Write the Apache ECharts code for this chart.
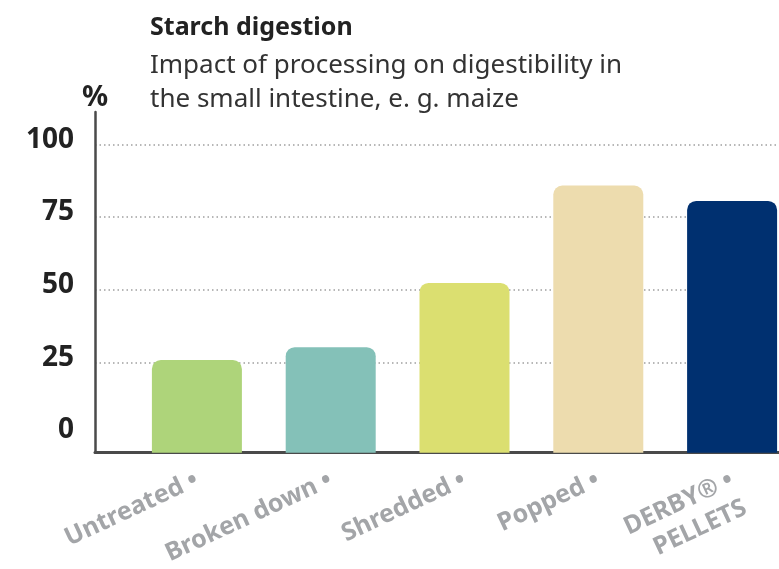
<!DOCTYPE html>
<html>
<head>
<meta charset="utf-8">
<script src="https://cdn.jsdelivr.net/npm/echarts@6/dist/echarts.min.js"></script>
<style>
  html, body { margin: 0; padding: 0; background: #fff; }
  #chart { width: 779px; height: 569px; }
</style>
</head>
<body>
<div id="chart"></div>
<script>
const categories = ['Untreated •', 'Broken down •', 'Shredded •', 'Popped •', 'DERBY® •\nPELLETS'];
const digestibility = [25.8, 30.2, 52.3, 85.8, 80.5];
const barColors = ['#aed47a', '#84c1b8', '#dbdf70', '#eddcae', '#003070'];
const yTicks = [0, 25, 50, 75, 100];

const font = 'Noto Sans';
const axisMin = -6.1;   // bars and axis line sit a little below the 0 gridline
const axisMax = 111.1;

const myChart = echarts.init(document.getElementById('chart'));

const option = {
  animation: false,
  title: [
    {
      left: 145, top: 10,
      text: 'Starch digestion',
      textStyle: { fontFamily: font, fontSize: 25, fontWeight: 'bold', color: '#222' }
    },
    {
      left: 145, top: 44,
      text: 'Impact of processing on digestibility in\nthe small intestine, e. g. maize',
      textStyle: { fontFamily: font, fontSize: 26, fontWeight: 'normal', color: '#333', lineHeight: 34 }
    }
  ],
  grid: [
    // gridlines + tick labels
    { left: 95, right: 0, top: 144.3, bottom: 134, outerBoundsMode: 'none' },
    // axis frame
    { left: 95, right: 0, top: 112, bottom: 116.3, outerBoundsMode: 'none' },
    // bars
    { left: 130, width: 669, top: 112, bottom: 116.3, outerBoundsMode: 'none' }
  ],
  xAxis: [
    { gridIndex: 0, type: 'value', min: 0, max: 1, show: false },
    {
      gridIndex: 1, type: 'value', min: 0, max: 1,
      axisLine: { show: true, onZero: false, lineStyle: { color: '#4a4a4a', width: 3 } },
      axisTick: { show: false }, axisLabel: { show: false }, splitLine: { show: false }
    },
    {
      gridIndex: 2, type: 'category', data: categories,
      axisLine: { show: false }, axisTick: { show: false },
      axisLabel: {
        rotate: 25, margin: 26, interval: 0,
        fontFamily: font, fontSize: 25, fontWeight: 'bold', color: '#a3a5a8', lineHeight: 31,
        // keep the first line of a two-line label in line with the others
        formatter: v => v.indexOf('\n') >= 0 ? '\n' + v : v
      }
    }
  ],
  yAxis: [
    {
      gridIndex: 0, type: 'value', min: yTicks[0], max: yTicks[yTicks.length - 1], interval: 25,
      axisLine: { show: false }, axisTick: { show: false },
      axisLabel: {
        margin: 21,
        formatter: '{t|{value}}',
        rich: {
          t: { fontFamily: font, fontSize: 28, fontWeight: 'bold', color: '#222', padding: [0, 0, 9, 0] }
        }
      },
      splitLine: {
        show: true, showMinLine: false,
        lineStyle: { color: '#a0a0a0', type: [1.5, 3], width: 1.5 }
      }
    },
    {
      gridIndex: 1, type: 'value', min: axisMin, max: axisMax,
      name: '%', nameLocation: 'end', nameGap: 0,
      nameTextStyle: { fontFamily: font, fontSize: 29, fontWeight: 'bold', color: '#222' },
      axisLine: { show: true, lineStyle: { color: '#4a4a4a', width: 2.5 } },
      axisTick: { show: false }, axisLabel: { show: false }, splitLine: { show: false }
    },
    { gridIndex: 2, type: 'value', min: axisMin, max: axisMax, show: false }
  ],
  series: [
    {
      // foot of each bar, from the 0 gridline down to the axis line
      type: 'bar',
      xAxisIndex: 2,
      yAxisIndex: 2,
      barWidth: 90,
      silent: true,
      data: barColors.map(c => ({ value: axisMin, itemStyle: { color: c } }))
    },
    {
      type: 'bar',
      xAxisIndex: 2,
      yAxisIndex: 2,
      barWidth: 90,
      barGap: '-100%',
      data: digestibility.map((v, i) => ({
        value: v,
        itemStyle: { color: barColors[i], borderRadius: [9, 9, 0, 0] }
      }))
    }
  ]
};

myChart.setOption(option);
</script>
</body>
</html>
